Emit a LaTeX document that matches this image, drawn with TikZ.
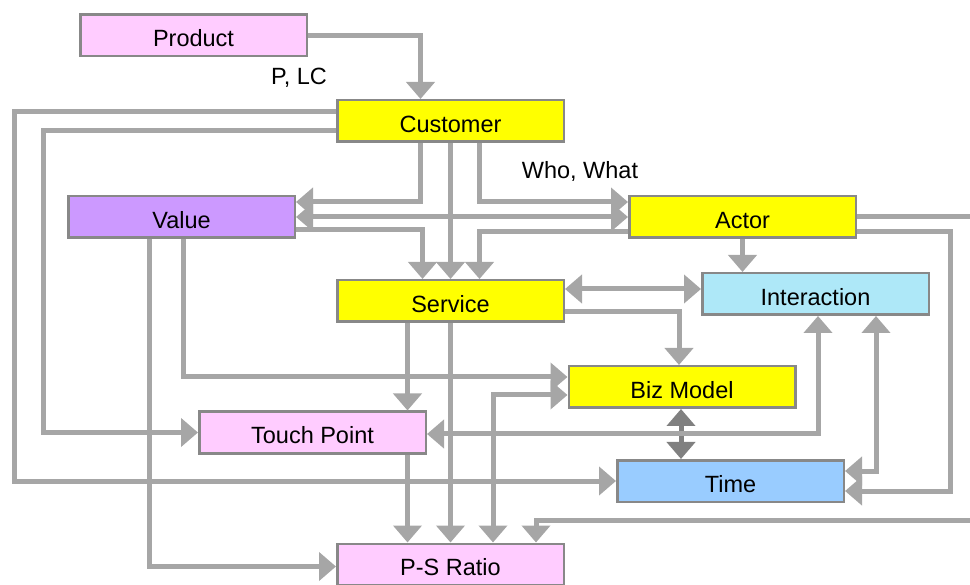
\documentclass[tikz,border=0pt]{standalone}
\usepackage{fontspec}
\setmainfont{Liberation Sans}
\usetikzlibrary{arrows.meta}
\definecolor{agray}{HTML}{A6A6A6}
\definecolor{dgray}{HTML}{808080}
\definecolor{bgray}{HTML}{888888}
\definecolor{cpink}{HTML}{FFCCFF}
\definecolor{cyel}{HTML}{FFFF00}
\definecolor{cpurp}{HTML}{CC99FF}
\definecolor{ccyan}{HTML}{AEE8F8}
\definecolor{cblue}{HTML}{99CCFF}
\tikzset{
  box/.style={draw=bgray, line width=2.5pt, minimum width=226.5pt, minimum height=41.5pt, inner sep=0pt,
    text height=22.2pt, text depth=0pt, font=\fontsize{23.5}{28}\selectfont},
  lbl/.style={font=\fontsize{23.5}{28}\selectfont, inner sep=0pt},
  arr/.style={line width=5pt, draw=agray, -{Triangle[width=28pt,length=17pt]}},
  darr/.style={line width=5pt, draw=agray, {Triangle[width=28pt,length=17pt]}-{Triangle[width=28pt,length=17pt]}},
  plain/.style={line width=5pt, draw=agray},
}
\begin{document}
\begin{tikzpicture}[x=1pt,y=-1pt]
\useasboundingbox (0,0) rectangle (970,585);
\node[box, fill=cpink] (prod) at (193.5,35.5) {Product};
\node[box, fill=cyel] (cust) at (450.5,121) {Customer};
\node[box, fill=cpurp] (val) at (181.5,217) {Value};
\node[box, fill=cyel] (act) at (742.5,217) {Actor};
\node[box, fill=cyel] (serv) at (450.5,301) {Service};
\node[box, fill=ccyan] (inter) at (815.5,294) {Interaction};
\node[box, fill=cyel] (biz) at (682,387) {Biz Model};
\node[box, fill=cpink] (tp) at (312.5,432.5) {Touch Point};
\node[box, fill=cblue] (time) at (730.5,481) {Time};
\node[box, fill=cpink] (ps) at (450.5,564.5) {P-S Ratio};

\node[lbl] (l1) at (299,78) {P, LC};
\node[lbl] (l2) at (580,171) {Who, What};

% Product -> Customer
\draw[arr] (prod.east) -| ([xshift=-30pt]cust.north);
% Customer -> Time (outer left loop)
\draw[arr] ([yshift=9pt]cust.west) -| (14,481) -- (time.west);
% Customer -> Touch Point
\draw[arr] ([yshift=-10pt]cust.west) -| (43,432.5) -- (tp.west);
% Customer -> Value
\draw[arr] ([xshift=-30pt]cust.south) |- ([yshift=15pt]val.east);
% Customer -> Service
\draw[arr] (cust.south) -- (serv.north);
% Customer -> Actor
\draw[arr] ([xshift=29pt]cust.south) |- ([yshift=15pt]act.west);
% Value <-> Actor
\draw[darr] (val.east) -- (act.west);
% Value -> Service
\draw[arr] ([yshift=-13pt]val.east) -| ([xshift=-28pt]serv.north);
% Actor -> Service
\draw[arr] ([yshift=-15pt]act.west) -| ([xshift=29pt]serv.north);
% Actor -> Interaction
\draw[arr] (act.south) -- (act.south |- inter.north);
% Actor -> P-S Ratio (via right edge)
\draw[arr] (act.east) -- (976,217) -- (976,520) -| ([xshift=85.5pt]ps.north);
% Actor -> Time
\draw[arr] ([yshift=-15pt]act.east) -| (950,491) -- ([yshift=-10pt]time.east);
% Service <-> Interaction
\draw[darr] ([yshift=12pt]serv.east) -- ([yshift=5pt]inter.west);
% Service -> Biz Model
\draw[arr] ([yshift=-11pt]serv.east) -| ([xshift=-3pt]biz.north);
% Service -> Touch Point
\draw[arr] ([xshift=-43pt]serv.south) -- ([xshift=-43pt]serv.south |- tp.north);
% Service -> P-S Ratio
\draw[arr] (serv.south) -- (ps.north);
% Value -> Biz Model
\draw[arr] ([xshift=2pt]val.south) |- ([yshift=10pt]biz.west);
% Value -> P-S Ratio
\draw[arr] ([xshift=-32pt]val.south) |- ([yshift=-2pt]ps.west);
% Biz Model <-> P-S Ratio
\draw[darr] ([yshift=-8pt]biz.west) -| ([xshift=42.5pt]ps.north);
% Biz Model <-> Time
\draw[line width=5pt, draw=dgray, {Triangle[width=28pt,length=17pt]}-{Triangle[width=28pt,length=17pt]}] ([xshift=-1pt]biz.south) -- ([xshift=-1pt]biz.south |- time.north);
% Interaction <-> Touch Point
\draw[darr] ([xshift=2.5pt]inter.south) |- ([yshift=-1.5pt]tp.east);
% Interaction <-> Time
\draw[darr] ([xshift=60.5pt]inter.south) |- ([yshift=10pt]time.east);
% Touch Point -> P-S Ratio
\draw[arr] ([xshift=95pt]tp.south) -- ([xshift=95pt]tp.south |- ps.north);
\end{tikzpicture}
\end{document}
